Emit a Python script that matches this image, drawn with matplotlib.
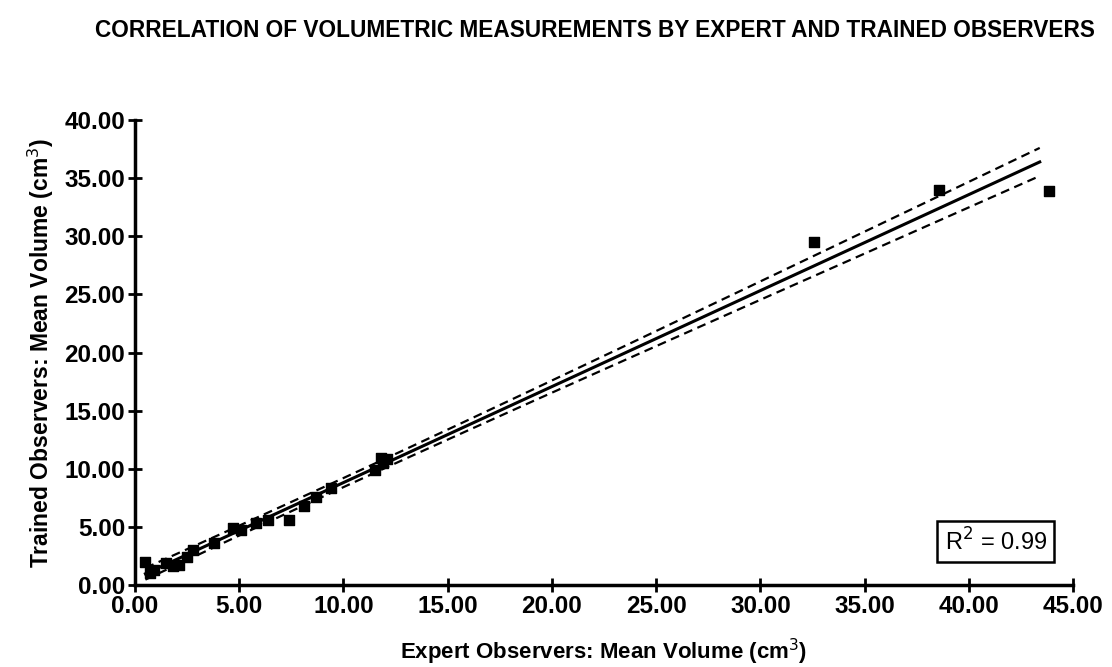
import matplotlib.pyplot as plt
import numpy as np

plt.rcParams['font.family'] = ['Liberation Sans', 'DejaVu Sans']

# mean volumes (cm^3)
expert = [0.5, 0.7, 0.9, 1.5, 1.8, 2.1, 2.5, 2.8, 3.8, 4.7, 5.1, 5.8, 6.4,
          7.4, 8.1, 8.7, 9.4, 11.5, 11.8, 11.9, 12.1, 32.55, 38.55, 43.83]
trained = [2.0, 1.0, 1.3, 1.9, 1.6, 1.7, 2.4, 3.0, 3.6, 4.9, 4.7, 5.3, 5.6,
           5.6, 6.8, 7.6, 8.3, 9.9, 10.9, 10.5, 10.8, 29.5, 34.0, 33.9]
xticks = [0, 5, 10, 15, 20, 25, 30, 35, 40, 45]
yticks = [0, 5, 10, 15, 20, 25, 30, 35, 40]
r2_text = 'R$^2$ = 0.99'

x = np.array(expert)
y = np.array(trained)
n = len(x)
slope, icpt = np.polyfit(x, y, 1)
res = y - (slope * x + icpt)
s = np.sqrt(np.sum(res ** 2) / (n - 2))
xf = np.linspace(x.min(), 43.4, 200)
yf = slope * xf + icpt
se = s * np.sqrt(1 / n + (xf - x.mean()) ** 2 / np.sum((x - x.mean()) ** 2))
t = 2.074  # t(0.975, 22)

fig = plt.figure(figsize=(11.12, 6.67), dpi=100)
ax = fig.add_axes([0.1214, 0.123, 0.8436, 0.697])

ax.plot(xf, yf, color='black', lw=2.2)
ax.plot(xf, yf + t * se, color='black', lw=1.6, ls=(0, (4, 2.5)))
ax.plot(xf, yf - t * se, color='black', lw=1.6, ls=(0, (4, 2.5)))
ax.scatter(x, y, marker='s', s=55, color='black', zorder=3)

ax.set_xlim(0, 45)
ax.set_ylim(0, 40)
ax.set_xticks(xticks)
ax.set_yticks(yticks)
ax.set_xticklabels([f'{v:.2f}' for v in xticks])
ax.set_yticklabels([f'{v:.2f}' for v in yticks])
ax.tick_params(direction='inout', length=10, width=2, labelsize=17.5, pad=2)
for lab in ax.get_xticklabels() + ax.get_yticklabels():
    lab.set_fontweight('bold')

for side in ['top', 'right']:
    ax.spines[side].set_visible(False)
for side in ['left', 'bottom']:
    ax.spines[side].set_linewidth(2.5)

ax.set_xlabel('Expert Observers: Mean Volume (cm$^3$)', fontsize=16,
              fontweight='bold', labelpad=14)
ax.set_ylabel('Trained Observers: Mean Volume (cm$^3$)', fontsize=16.5,
              fontweight='bold', labelpad=6)
fig.text(0.535, 0.955, 'CORRELATION OF VOLUMETRIC MEASUREMENTS BY EXPERT AND TRAINED OBSERVERS',
         ha='center', va='center', fontsize=16.3, fontweight='bold')

ax.text(0.972, 0.093, r2_text, transform=ax.transAxes, ha='right', va='center',
        fontsize=17, bbox=dict(boxstyle='square,pad=0.3', fc='white', ec='black', lw=1.8))

fig.savefig('out.png', dpi=100)
